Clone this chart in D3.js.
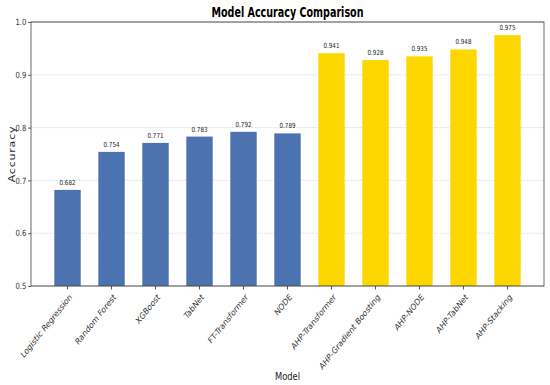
<!DOCTYPE html>
<html>
<head>
<meta charset="utf-8">
<script src="https://cdn.jsdelivr.net/npm/d3@7"></script>
<style>
  body { margin: 0; background: #fff; }
  svg text { font-family: "DejaVu Sans", sans-serif; }
</style>
</head>
<body>
<div id="chart"></div>
<script>
const models = ["Logistic Regression", "Random Forest", "XGBoost", "TabNet", "FT-Transformer", "NODE",
    "AHP-Transformer", "AHP-Gradient Boosting", "AHP-NODE", "AHP-TabNet", "AHP-Stacking"];
const accuracy = [0.682, 0.754, 0.771, 0.783, 0.792, 0.789, 0.941, 0.928, 0.935, 0.948, 0.975];
const groups = ["base", "base", "base", "base", "base", "base", "ahp", "ahp", "ahp", "ahp", "ahp"];
const yTicks = [0.5, 0.6, 0.7, 0.8, 0.9, 1.0];

const W = 550, H = 385;
// the picture looks squeezed sideways, so draw wider and scale x back down
const sx = 0.8;
const VW = W / sx;
const margin = { top: 22, right: 6 / sx, bottom: 99, left: 31 / sx };
const width = VW - margin.left - margin.right;
const height = H - margin.top - margin.bottom;

const colors = { base: "#4c72b0", ahp: "#ffd700" };

const svg = d3.select("#chart")
    .append("svg")
    .attr("width", W)
    .attr("height", H);

const root = svg.append("g")
    .attr("transform", `scale(${sx},1)`);

const g = root.append("g")
    .attr("transform", `translate(${margin.left},${margin.top})`);

const x = d3.scaleBand()
    .domain(models)
    .range([0, width])
    .paddingInner(0.4)
    .paddingOuter(0.53);

const y = d3.scaleLinear()
    .domain([0.5, 1.0])
    .range([height, 0]);

// grid
g.append("g")
    .selectAll("line")
    .data(yTicks.slice(1, -1))
    .enter()
    .append("line")
    .attr("x1", 0)
    .attr("x2", width)
    .attr("y1", d => y(d))
    .attr("y2", d => y(d))
    .style("stroke", "#c8c8c8")
    .style("stroke-width", 0.8)
    .style("stroke-dasharray", "2,2");

// bars
g.selectAll(".bar")
    .data(models)
    .enter()
    .append("rect")
    .attr("class", "bar")
    .attr("x", d => x(d))
    .attr("width", x.bandwidth())
    .attr("y", (d, i) => y(accuracy[i]))
    .attr("height", (d, i) => height - y(accuracy[i]))
    .style("fill", (d, i) => colors[groups[i]]);

// value labels
g.selectAll(".val")
    .data(models)
    .enter()
    .append("text")
    .attr("class", "val")
    .attr("x", d => x(d) + x.bandwidth() / 2)
    .attr("y", (d, i) => y(accuracy[i]) - 5)
    .attr("text-anchor", "middle")
    .style("font-size", "7px")
    .style("fill", "#222")
    .text((d, i) => accuracy[i].toFixed(3));

// axes
const yAxis = g.append("g")
    .call(d3.axisLeft(y).tickValues(yTicks).tickFormat(d3.format(".1f")).tickSize(3.5).tickPadding(2.5));
yAxis.selectAll("text").style("font-size", "8.5px").style("fill", "#333");

const xAxis = g.append("g")
    .attr("transform", `translate(0,${height})`)
    .call(d3.axisBottom(x).tickSize(3.5).tickPadding(2));
xAxis.selectAll("text")
    .attr("transform", "translate(0,3) rotate(-45)")
    .attr("dx", "-0.2em")
    .attr("dy", "0.55em")
    .style("text-anchor", "end")
    .style("font-size", "9px")
    .style("fill", "#333");

root.selectAll(".domain").remove();
root.selectAll(".tick line").style("stroke", "#444");

// frame
g.append("rect")
    .attr("width", width)
    .attr("height", height)
    .style("fill", "none")
    .style("stroke", "#444")
    .style("stroke-width", 1);

// title and axis labels
root.append("text")
    .attr("x", margin.left + width / 2)
    .attr("y", 17)
    .attr("text-anchor", "middle")
    .attr("textLength", 152 / sx)
    .attr("lengthAdjust", "spacingAndGlyphs")
    .style("font-size", "13.5px")
    .style("font-weight", "bold")
    .text("Model Accuracy Comparison");

root.append("text")
    .attr("transform", `translate(${15 / sx},${margin.top + height / 2}) rotate(-90)`)
    .attr("text-anchor", "middle")
    .style("letter-spacing", "0.8px")
    .style("font-size", "11px")
    .style("fill", "#222")
    .text("Accuracy");

root.append("text")
    .attr("x", margin.left + width / 2)
    .attr("y", 380)
    .attr("text-anchor", "middle")
    .style("font-size", "10.5px")
    .style("fill", "#222")
    .text("Model");
</script>
</body>
</html>
